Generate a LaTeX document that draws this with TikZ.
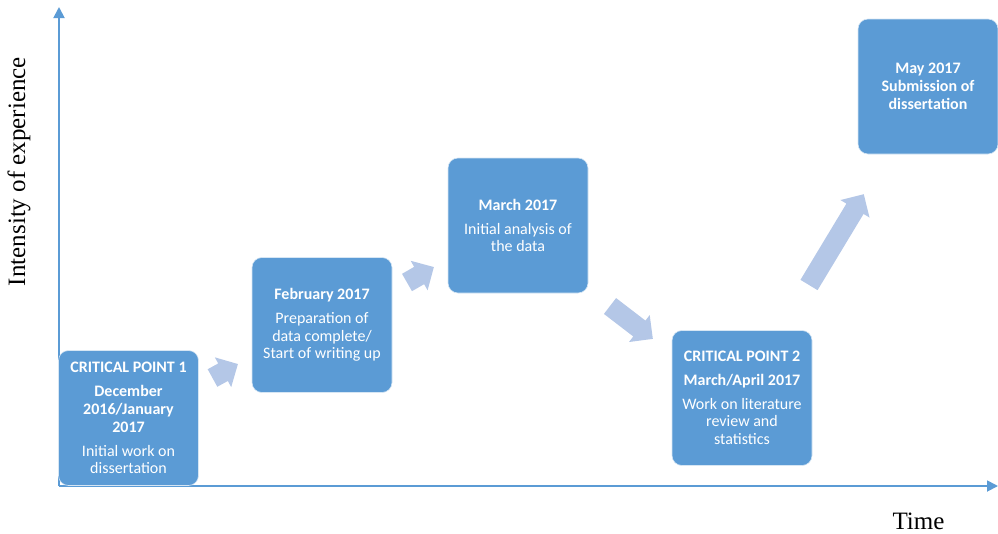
\documentclass[tikz,border=0pt]{standalone}
\usepackage{fontspec}
\setmainfont{Carlito}
\newfontfamily\timesf{Liberation Serif}
\usetikzlibrary{arrows.meta}
\definecolor{boxblue}{HTML}{5B9BD5}
\definecolor{arrowblue}{HTML}{B4C7E7}
\newcommand\blockarr[4]{%
  \fill[arrowblue,shift={(#1,#2)},rotate=#3] (0,-10)--({#4-17},-10)--({#4-17},-17)--(#4,0)--({#4-17},17)--({#4-17},10)--(0,10)--cycle;}
\begin{document}
\begin{tikzpicture}[x=1pt,y=-1pt,
  box/.style={fill=boxblue, draw=white!75!boxblue, line width=0.6pt, rounded corners=10pt,
    minimum width=140pt, minimum height=135pt, text=white, align=center,
    font=\fontsize{16}{17.8}\selectfont, inner sep=0pt},
  axis/.style={draw=boxblue, line width=1.8pt, -{Triangle[width=11pt,length=11pt]}},
  axlabel/.style={font=\timesf\fontsize{25}{25}\selectfont, inner sep=0pt}]
\path[use as bounding box] (0,0) rectangle (998,533);
\coordinate (o) at (59,486);
\coordinate (ytop) at (59,7);
\coordinate (xend) at (998,486);
\draw[axis] (o) -- (ytop);
\draw[axis] (o) -- (xend);
\node[axlabel, rotate=90] (ylab) at (19,171.5) {Intensity of experience};
\node[axlabel] (xlab) at (918.5,521) {Time};

\blockarr{212.5}{378}{28.8}{29}
\blockarr{407}{282.5}{29.9}{31}
\blockarr{610}{306}{-37.5}{54}
\blockarr{809}{285}{58.9}{106}

\node[box] (b1) at (128.5,418) {\textbf{CRITICAL POINT 1}\\[6.5pt]\textbf{December}\\\textbf{2016/January}\\\textbf{2017}\\[6pt]Initial work on\\dissertation};
\node[box] (b2) at (322,325) {\textbf{February 2017}\\[6pt]Preparation of\\data complete/\\Start of writing up};
\node[box] (b3) at (518,225.5) {\textbf{March 2017}\\[6pt]Initial analysis of\\the data};
\node[box] (b4) at (742,398) {\textbf{CRITICAL POINT 2}\\[6pt]\textbf{March/April 2017}\\[6pt]Work on literature\\review and\\statistics};
\node[box] (b5) at (928,86.5) {\textbf{May 2017}\\\textbf{Submission of}\\\textbf{dissertation}};
\end{tikzpicture}
\end{document}
